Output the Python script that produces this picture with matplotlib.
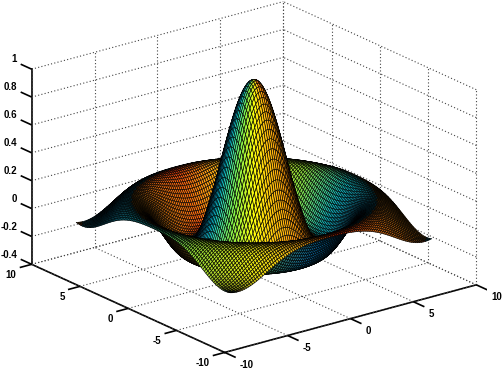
import numpy as np
import matplotlib
matplotlib.use("Agg")
import matplotlib.pyplot as plt
from mpl_toolkits.mplot3d import proj3d

# The plotted surface is the sinc function sin(R)/R on [-8, 8]^2. The roughly 10,000 mesh
# cells cannot be read individually, so this one series is computed from that function.
grid_x = np.arange(-8, 8.001, 0.16)
grid_y = np.arange(-8, 8.001, 0.16)
x_ticks = [-10, -5, 0, 5, 10]
y_ticks = [-10, -5, 0, 5, 10]
z_ticks = [-0.4, -0.2, 0, 0.2, 0.4, 0.6, 0.8, 1]
x_labels = ['-10', '-5', '0', '5', '10']
y_labels = ['-10', '-5', '0', '5', '10']
z_labels = ['-0.4', '-0.2', '0', '0.2', '0.4', '0.6', '0.8', '1']

X, Y = np.meshgrid(grid_x, grid_y)
R = np.sqrt(X**2 + Y**2) + np.finfo(float).eps
Z = np.sin(R) / R

# colouring: hue follows the compass direction of the surface normal
gy, gx = np.gradient(Z, grid_y, grid_x)
ang = np.degrees(np.arctan2(-gy, -gx)) % 360
slope = np.hypot(gx, gy)
a = [0, 45, 90, 135, 175, 205, 232, 255, 275, 295, 315, 340, 360]
gentle = np.array([[.50,.35,.10],[.30,.45,.15],[.05,.45,.55],[.05,.60,.75],[.05,.72,.72],[.55,.80,.20],
                   [.88,.86,.10],[1.0,.62,.10],[1.0,.15,.05],[.95,.38,.05],[.72,.44,.08],[.62,.42,.10],[.50,.35,.10]])
steep = np.array([[.50,.35,.10],[.30,.45,.15],[.05,.40,.70],[.05,.50,.90],[.05,.82,.90],[.50,.95,.30],
                  [1.0,1.0,.05],[1.0,.78,.05],[1.0,.68,.05],[1.0,.60,.05],[1.0,.55,.05],[.70,.45,.10],[.50,.35,.10]])
gc = np.stack([np.interp(ang, a, gentle[:, i]) for i in range(3)], -1)
sc = np.stack([np.interp(ang, a, steep[:, i]) for i in range(3)], -1)
w = np.clip(slope / 0.3, 0, 1)[..., None]
rgb = gc * (1 - w) + sc * w
rgb = rgb * (0.5 + 0.5 * np.clip(slope / 0.1, 0, 1))[..., None]

W, H = 504, 370
fig = plt.figure(figsize=(W / 100, H / 100), dpi=100, facecolor='white')
ax = fig.add_axes([7.5 / W, -53.5 / H, 480 / W, 480 / H], projection='3d', proj_type='ortho')
ax.view_init(elev=20.5, azim=-127.5)
ax.set_box_aspect((1, 1, 0.657))
ax.computed_zorder = False

grid = dict(color='#444444', linewidth=0.8, linestyle=(0, (1, 2)), zorder=1)
x0, x1, y0, y1, z0, z1 = x_ticks[0], x_ticks[-1], y_ticks[0], y_ticks[-1], z_ticks[0], z_ticks[-1]
for v in x_ticks:
    ax.plot([v, v], [y0, y1], [z0, z0], **grid)
    ax.plot([v, v], [y1, y1], [z0, z1], **grid)
for v in y_ticks:
    ax.plot([x0, x1], [v, v], [z0, z0], **grid)
    ax.plot([x1, x1], [v, v], [z0, z1], **grid)
for v in z_ticks:
    ax.plot([x0, x1], [y1, y1], [v, v], **grid)
    ax.plot([x1, x1], [y0, y1], [v, v], **grid)

ax.plot_surface(X, Y, Z, facecolors=rgb, rstride=1, cstride=1, shade=False,
                edgecolor='black', linewidth=0.42, antialiased=True, zorder=2)

ax.set_xticks([])
ax.set_yticks([])
ax.set_zticks([])
ax.patch.set_alpha(0)
for axis in (ax.xaxis, ax.yaxis, ax.zaxis):
    axis.set_pane_color((1, 1, 1, 0))
    axis.pane.set_edgecolor((1, 1, 1, 0))
    axis.line.set_color('black')
    axis.line.set_linewidth(1.2)
ax.set_xlim(x0, x1)
ax.set_ylim(y0, y1)
ax.set_zlim(z0, z1)

font = dict(fontfamily='Liberation Sans', fontweight='bold', fontsize=7, color='black', va='center')
tick = dict(color='black', linewidth=1.2, solid_capstyle='butt', zorder=3)
M = ax.get_proj()

def label(px, py, pz, s, ha):
    u, v2, _ = proj3d.proj_transform(px, py, pz, M)
    ax.text2D(u, v2, s, transform=ax.transData, ha=ha, **font)

for v, s in zip(x_ticks, x_labels):
    ax.plot([v, v], [y0, y0 - 1.14], [z0, z0], **tick)
    label(v, y0 - 1.55, z0 - 0.04, s, 'left')
for v, s in zip(y_ticks, y_labels):
    ax.plot([x0, x0 - 0.95], [v, v], [z0, z0], **tick)
    label(x0 - 1.2, v, z0 - 0.047, s, 'right')
for v, s in zip(z_ticks, z_labels):
    ax.plot([x0, x0], [y1, y1 + 1.14], [v, v], **tick)
    label(x0, y1 + 1.5, v + 0.023, s, 'right')
ax.set_xlim(x0, x1)
ax.set_ylim(y0, y1)
ax.set_zlim(z0, z1)
fig.savefig('out.png', dpi=100, facecolor='white')
